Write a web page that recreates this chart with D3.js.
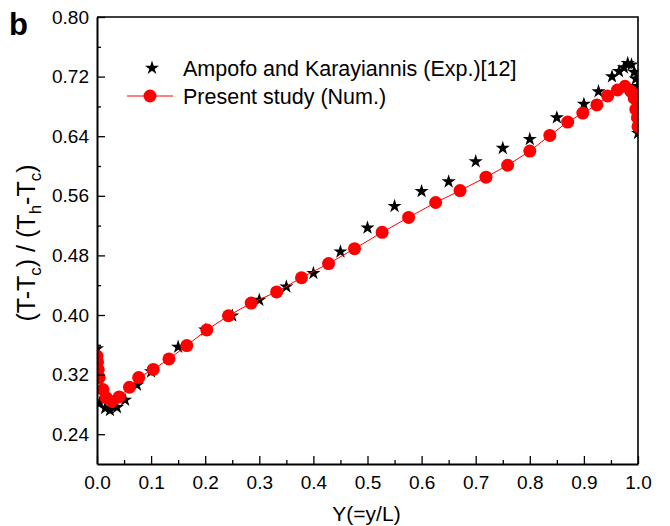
<!DOCTYPE html>
<html>
<head>
<meta charset="utf-8">
<script src="https://cdn.jsdelivr.net/npm/d3@7"></script>
<style>
  html, body { margin: 0; padding: 0; background: #fff; }
  svg { display: block; font-family: Arial, "Liberation Sans", Helvetica, sans-serif; }
</style>
</head>
<body>
<svg id="chart" width="670" height="526"></svg>
<script>
// Experimental data (Ampofo and Karayiannis)
const expX = [0.0, 0.002, 0.005, 0.015, 0.024, 0.037, 0.052, 0.074, 0.10, 0.15, 0.20, 0.25, 0.30, 0.35, 0.40,
  0.45, 0.50, 0.55, 0.60, 0.65, 0.70, 0.75, 0.80, 0.85, 0.90, 0.927, 0.952, 0.965, 0.974, 0.981, 0.988,
  0.993, 0.996, 0.999, 1.0, 1.0, 1.0, 1.0];
const expT = [0.355, 0.323, 0.282, 0.275, 0.272, 0.276, 0.286, 0.306, 0.324, 0.357, 0.380, 0.399, 0.420, 0.438, 0.456,
  0.485, 0.517, 0.546, 0.566, 0.579, 0.606, 0.624, 0.636, 0.665, 0.683, 0.700, 0.720, 0.727, 0.732, 0.738, 0.736,
  0.726, 0.717, 0.707, 0.690, 0.675, 0.660, 0.644];

// Numerical results (present study)
const numX = [0.0, 0.001, 0.002, 0.004, 0.011, 0.017, 0.028, 0.041, 0.060, 0.077, 0.104, 0.133, 0.166, 0.203,
  0.243, 0.285, 0.332, 0.378, 0.428, 0.476, 0.527, 0.576, 0.626, 0.671, 0.719, 0.759, 0.800, 0.837, 0.870,
  0.898, 0.924, 0.944, 0.962, 0.976, 0.987, 0.993, 0.996, 0.999, 1.0];
const numT = [0.345, 0.337, 0.327, 0.316, 0.300, 0.289, 0.284, 0.290, 0.303, 0.316, 0.327, 0.341, 0.359, 0.380,
  0.399, 0.416, 0.431, 0.450, 0.469, 0.489, 0.511, 0.531, 0.551, 0.567, 0.585, 0.601, 0.620, 0.641, 0.659,
  0.671, 0.682, 0.694, 0.702, 0.707, 0.700, 0.691, 0.676, 0.665, 0.653];

const xTicks = [0.0, 0.1, 0.2, 0.3, 0.4, 0.5, 0.6, 0.7, 0.8, 0.9, 1.0];
const yTicks = [0.24, 0.32, 0.40, 0.48, 0.56, 0.64, 0.72, 0.80];
const legendLabels = ["Ampofo and Karayiannis (Exp.)[12]", "Present study (Num.)"];

const svg = d3.select("#chart");
const pL = 97, pR = 638, pT = 17, pB = 464;

const x = d3.scaleLinear().domain([0, 1]).range([pL, pR]);
const y = d3.scaleLinear().domain([0.2, 0.8]).range([pB, pT]);

svg.append("defs").append("clipPath").attr("id", "plotclip")
  .append("rect").attr("x", pL).attr("y", pT).attr("width", pR - pL).attr("height", pB - pT);

const plot = svg.append("g").attr("clip-path", "url(#plotclip)");

const star = d3.symbol().type(d3.symbolStar).size(62);

// experimental points
plot.append("g").selectAll("path").data(expX.map((v, i) => [v, expT[i]])).join("path")
  .attr("d", star)
  .attr("transform", d => `translate(${x(d[0])},${y(d[1])})`)
  .attr("fill", "#000");

// numerical curve
const line = d3.line().x(d => x(d[0])).y(d => y(d[1]));
const numPts = numX.map((v, i) => [v, numT[i]]);
plot.append("path").datum(numPts).attr("d", line)
  .attr("fill", "none").attr("stroke", "#ff0000").attr("stroke-width", 1);
plot.append("g").selectAll("circle").data(numPts).join("circle")
  .attr("cx", d => x(d[0])).attr("cy", d => y(d[1])).attr("r", 6.5)
  .attr("fill", "#ff0000");

// frame (top and right)
svg.append("path")
  .attr("d", `M${pL},${pT}H${pR}V${pB}`)
  .attr("fill", "none").attr("stroke", "#000").attr("stroke-width", 1.6);

const tickFont = "Arial, 'Liberation Sans', sans-serif";

// bottom axis, ticks pointing inward
const xMinor = d3.range(0.05, 1, 0.1);
const xAxis = svg.append("g").attr("transform", `translate(0,${pB})`);
xAxis.call(d3.axisBottom(x).tickValues(xMinor).tickSize(-4).tickFormat(""))
  .call(g => g.select(".domain").remove());
xAxis.append("g").call(d3.axisBottom(x).tickValues(xTicks).tickSizeInner(-8).tickSizeOuter(0)
  .tickPadding(12).tickFormat(d3.format(".1f")));
xAxis.selectAll("line").attr("stroke-width", 1.3);
xAxis.selectAll(".domain").attr("stroke-width", 2);
xAxis.selectAll("text").attr("font-size", 19).attr("fill", "#000").attr("font-family", tickFont);

// left axis, ticks pointing inward
const yMinor = d3.range(0.28, 0.8, 0.08);
const yAxis = svg.append("g").attr("transform", `translate(${pL},0)`);
yAxis.call(d3.axisLeft(y).tickValues(yMinor).tickSize(-4).tickFormat(""))
  .call(g => g.select(".domain").remove());
yAxis.append("g").call(d3.axisLeft(y).tickValues(yTicks).tickSizeInner(-8).tickSizeOuter(0)
  .tickPadding(8).tickFormat(d3.format(".2f")));
yAxis.selectAll("line").attr("stroke-width", 1.3);
yAxis.selectAll(".domain").attr("stroke-width", 2);
yAxis.selectAll("text").attr("font-size", 19).attr("fill", "#000").attr("font-family", tickFont);

// axis titles
svg.append("text").attr("x", (pL + pR) / 2 - 1).attr("y", 521)
  .attr("text-anchor", "middle").attr("font-size", 21).text("Y(=y/L)");

const yl = svg.append("text").attr("transform", `translate(35,243) rotate(-90)`)
  .attr("text-anchor", "middle").attr("font-size", 25);
yl.append("tspan").text("(T-T");
yl.append("tspan").attr("font-size", 17).attr("dy", 6).text("c");
yl.append("tspan").attr("dy", -6).text(")");
yl.append("tspan").attr("dx", 7).text("/");
yl.append("tspan").attr("dx", 7).text("(T");
yl.append("tspan").attr("font-size", 17).attr("dy", 6).text("h");
yl.append("tspan").attr("dy", -6).text("-T");
yl.append("tspan").attr("font-size", 17).attr("dy", 6).text("c");
yl.append("tspan").attr("dy", -6).text(")");

// panel letter
svg.append("text").attr("x", 9).attr("y", 35).attr("font-size", 31).attr("font-weight", "bold").text("b");

// legend
const lg = svg.append("g");
lg.append("path").attr("d", star).attr("transform", "translate(152,68)").attr("fill", "#000");
lg.append("line").attr("x1", 127).attr("x2", 173).attr("y1", 96).attr("y2", 96)
  .attr("stroke", "#ff0000").attr("stroke-width", 1);
lg.append("circle").attr("cx", 150).attr("cy", 96).attr("r", 6.5).attr("fill", "#ff0000");
lg.selectAll("text").data(legendLabels).join("text")
  .attr("x", 183).attr("y", (d, i) => 76 + i * 28)
  .attr("font-size", 21.5).text(d => d);
</script>
</body>
</html>
